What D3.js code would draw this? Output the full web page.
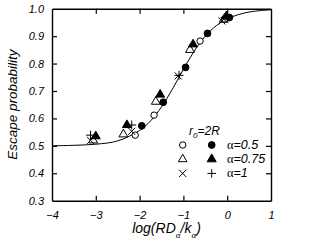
<!DOCTYPE html>
<html lang="en">
<head>
  <meta charset="UTF-8">
  <title>Escape probability</title>
  <script src="https://d3js.org/d3.v7.min.js"></script>
  <style>
    body { margin: 0; background: #fff; }
    svg text { font-family: "Liberation Sans", Arial, sans-serif; font-style: italic; fill: #000; }
    .axis text { font-size: 11px; }
  </style>
</head>
<body>
<div id="chart"></div>
<script>
  // x ticks and y ticks
  const xTicks = [-4, -3, -2, -1, 0, 1];
  const yTicks = [0.3, 0.4, 0.5, 0.6, 0.7, 0.8, 0.9, 1.0];

  // fitted curve
  const curveX = [-4, -3.5, -3, -2.5, -2, -1.75, -1.5, -1.25, -1, -0.75, -0.5, -0.25, 0, 0.25, 0.5, 0.75, 1];
  const curveY = [0.500, 0.502, 0.506, 0.518, 0.556, 0.591, 0.642, 0.707, 0.779, 0.846, 0.900, 0.938, 0.963, 0.978, 0.988, 0.993, 0.996];

  // data points: [log(RD/k), escape probability]
  const a05open   = [[-2.10, 0.539], [-1.67, 0.612], [-0.62, 0.882], [-0.06, 0.962]];
  const a05filled = [[-1.95, 0.573], [-1.46, 0.659], [-0.95, 0.786], [-0.45, 0.910], [0.05, 0.968]];
  const a075open   = [[-3.06, 0.520], [-2.37, 0.542], [-1.63, 0.661], [-0.85, 0.850], [-0.08, 0.960]];
  const a075filled = [[-3.00, 0.535], [-2.29, 0.576], [-1.53, 0.687], [-0.78, 0.870], [-0.02, 0.972]];
  const a1cross = [[-3.12, 0.520], [-2.18, 0.553], [-1.12, 0.755], [-0.12, 0.955]];
  const a1plus  = [[-3.12, 0.539], [-2.18, 0.576], [-1.10, 0.757], [-0.05, 0.968]];

  const W = 312, H = 252;
  const margin = { top: 8.7, right: 41, bottom: 51.3, left: 52 };
  const width = W - margin.left - margin.right;
  const height = H - margin.top - margin.bottom;

  const svg = d3.select('#chart').append('svg')
    .attr('width', W).attr('height', H);
  const g = svg.append('g')
    .attr('transform', `translate(${margin.left},${margin.top})`);

  const x = d3.scaleLinear().domain([-4, 1]).range([0, width]);
  const y = d3.scaleLinear().domain([0.3, 1.0]).range([height, 0]);

  const inner = v => v > -4 && v < 1;
  const innerY = v => v > 0.3 && v < 1.0;

  // bottom axis with labels
  g.append('g').attr('class', 'axis')
    .attr('transform', `translate(0,${height})`)
    .call(d3.axisBottom(x).tickValues(xTicks).tickSizeInner(-5).tickSizeOuter(0).tickPadding(11)
      .tickFormat(d3.format('d')))
    .call(s => s.selectAll('.tick line').filter(d => !inner(d)).remove());

  // left axis with labels
  g.append('g').attr('class', 'axis')
    .call(d3.axisLeft(y).tickValues(yTicks).tickSizeInner(-5).tickSizeOuter(0).tickPadding(8)
      .tickFormat(d3.format('.1f')))
    .call(s => s.selectAll('.tick line').filter(d => !innerY(d)).remove());

  // top and right axes, ticks only
  g.append('g')
    .call(d3.axisTop(x).tickValues(xTicks.filter(inner)).tickSizeInner(-5).tickSizeOuter(0).tickFormat(''));
  g.append('g')
    .attr('transform', `translate(${width},0)`)
    .call(d3.axisRight(y).tickValues(yTicks.filter(innerY)).tickSizeInner(-5).tickSizeOuter(0).tickFormat(''));

  g.selectAll('.domain').attr('stroke-width', 1.4);
  g.selectAll('.tick line').attr('stroke-width', 1.2);

  // fitted curve
  const curveData = curveX.map((v, i) => [v, curveY[i]]);
  g.append('path')
    .datum(curveData)
    .attr('fill', 'none')
    .attr('stroke', '#000')
    .attr('stroke-width', 1)
    .attr('d', d3.line().x(d => x(d[0])).y(d => y(d[1])).curve(d3.curveCatmullRom));

  const symTimes = d3.symbolTimes || d3.symbolX;
  const series = [
    { data: a075open, type: d3.symbolTriangle, size: 34, fill: '#fff', stroke: '#000' },
    { data: a05open, type: d3.symbolCircle, size: 32, fill: '#fff', stroke: '#000' },
    { data: a1cross, type: symTimes, size: 34, fill: 'none', stroke: '#000' },
    { data: a075filled, type: d3.symbolTriangle, size: 34, fill: '#000', stroke: '#000' },
    { data: a05filled, type: d3.symbolCircle, size: 36, fill: '#000', stroke: '#000' },
    { data: a1plus, type: d3.symbolPlus, size: 28, fill: 'none', stroke: '#000' }
  ];

  series.forEach(s => {
    g.selectAll(null).data(s.data).enter().append('path')
      .attr('transform', d => `translate(${x(d[0])},${y(d[1])})`)
      .attr('d', d3.symbol().type(s.type).size(s.size))
      .attr('fill', s.fill)
      .attr('stroke', s.stroke)
      .attr('stroke-width', 1);
  });

  // legend
  const legend = svg.append('g');
  const lt = legend.append('text').attr('x', 189).attr('y', 135).attr('font-size', 12);
  lt.append('tspan').text('r');
  lt.append('tspan').attr('font-size', 8).attr('dy', 3).text('0');
  lt.append('tspan').attr('dy', -3).text('=2R');

  const rows = [
    { open: d3.symbolCircle, filled: d3.symbolCircle, val: '0.5', line: false },
    { open: d3.symbolTriangle, filled: d3.symbolTriangle, val: '0.75', line: false },
    { open: symTimes, filled: d3.symbolPlus, val: '1', line: true }
  ];
  rows.forEach((r, i) => {
    const cy = 145 + i * 14.2;
    legend.append('path')
      .attr('transform', `translate(182.7,${cy})`)
      .attr('d', d3.symbol().type(r.open).size(r.line ? 36 : 32))
      .attr('fill', r.line ? 'none' : '#fff').attr('stroke', '#000');
    legend.append('path')
      .attr('transform', `translate(211.7,${cy})`)
      .attr('d', d3.symbol().type(r.filled).size(r.line ? 26 : 36))
      .attr('fill', r.line ? 'none' : '#000').attr('stroke', '#000');
    const t = legend.append('text').attr('x', 227).attr('y', cy + 4).attr('font-size', 12.5);
    t.append('tspan').attr('font-family', '"Liberation Serif", serif').attr('font-style', 'normal').text('α');
    t.append('tspan').text('=' + r.val);
  });

  // axis titles
  svg.append('text')
    .attr('transform', `translate(17,${margin.top + height / 2}) rotate(-90)`)
    .attr('text-anchor', 'middle')
    .attr('font-size', 13.5)
    .text('Escape probability');

  const xt = svg.append('text')
    .attr('x', margin.left + width / 2 + 5).attr('y', 233)
    .attr('text-anchor', 'middle')
    .attr('font-size', 14);
  xt.append('tspan').text('log(RD');
  xt.append('tspan').attr('font-size', 9).attr('dy', 5).attr('font-family', '"Liberation Serif", serif').text('α');
  xt.append('tspan').attr('dy', -5).text('/k');
  xt.append('tspan').attr('font-size', 9).attr('dy', 5).attr('font-family', '"Liberation Serif", serif').text('α');
  xt.append('tspan').attr('dy', -5).text(')');
</script>
</body>
</html>
